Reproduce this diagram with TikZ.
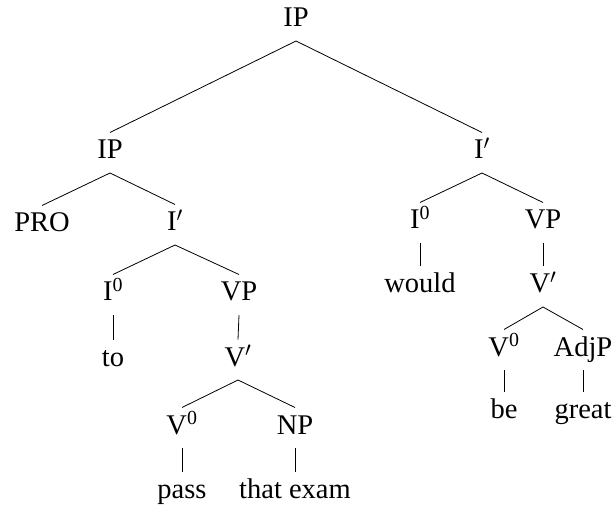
\documentclass[tikz,border=0pt]{standalone}
\usepackage{fontspec}
\setmainfont{Liberation Serif}
\begin{document}
\begin{tikzpicture}[x=1pt,y=-1pt,
  lab/.style={anchor=base,inner sep=0pt,font=\fontsize{28.5}{34}\selectfont},
  br/.style={line width=0.8pt,black}]
\fill[white] (0,0) rectangle (616,505);
\useasboundingbox (0,0) rectangle (616,505);
% top levels
\node[lab] (ip)    at (296,27)  {IP};
\node[lab] (ipl)   at (110,159) {IP};
\node[lab] (ibr)   at (482,159) {I$'$};
% left subtree
\node[lab] (pro)   at (42,232)  {PRO};
\node[lab] (ibl)   at (175,231) {I$'$};
\node[lab] (izl)   at (113,301) {I\textsuperscript{0}};
\node[lab] (vpl)   at (239,301) {VP};
\node[lab] (to)    at (113,366) {to};
\node[lab] (vbl)   at (238,366) {V$'$};
\node[lab] (vzl)   at (182,434) {V\textsuperscript{0}};
\node[lab] (np)    at (295,434) {NP};
\node[lab] (pass)  at (182,498) {pass};
\node[lab] (exam)  at (295,498) {that exam};
% right subtree
\node[lab] (izr)   at (420,229) {I\textsuperscript{0}};
\node[lab] (vpr)   at (543,229) {VP};
\node[lab] (would) at (420,293) {would};
\node[lab] (vbr)   at (543,293) {V$'$};
\node[lab] (vzr)   at (504,356) {V\textsuperscript{0}};
\node[lab] (adjp)  at (583,356) {AdjP};
\node[lab] (be)    at (504,418) {be};
\node[lab] (great) at (583,418) {great};
\foreach \p/\c in {ip/ipl, ip/ibr, ipl/pro, ipl/ibl, ibl/izl, ibl/vpl,
  izl/to, vpl/vbl, vbl/vzl, vbl/np, vzl/pass, np/exam,
  ibr/izr, ibr/vpr, izr/would, vpr/vbr, vbr/vzr, vbr/adjp, vzr/be, adjp/great}
  \draw[br] ([yshift=-14pt]\p.base) -- ([yshift=26.5pt]\c.base);
\end{tikzpicture}
\end{document}
